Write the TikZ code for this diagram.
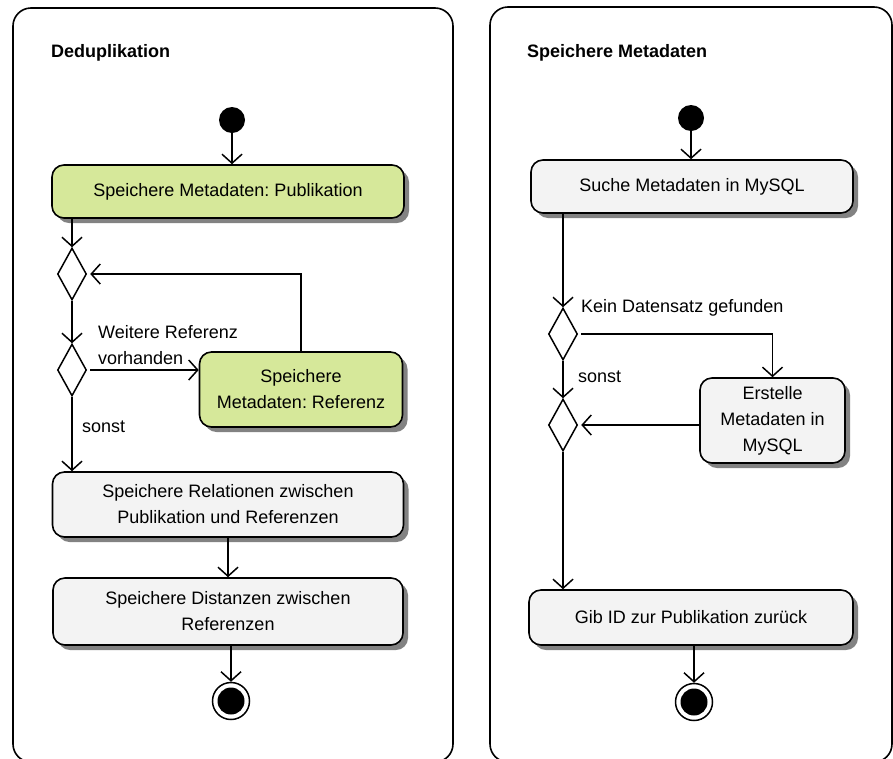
\documentclass[tikz,border=0pt]{standalone}
\usepackage{fontspec}
\setmainfont{Liberation Sans}
\usetikzlibrary{arrows.meta,shapes.geometric,shadows}
\frenchspacing

\definecolor{actgreen}{RGB}{214,232,154}
\definecolor{actgrey}{RGB}{243,243,243}
\definecolor{shadowgrey}{RGB}{130,130,130}

\tikzset{
  every node/.style={font=\fontsize{18}{26}\selectfont},
  panel/.style={draw, line width=1.6pt, rounded corners=18pt},
  action/.style={draw, line width=1.6pt, rounded corners=12pt, fill=actgrey,
    align=center, inner sep=0pt,
    drop shadow={shadow xshift=5pt, shadow yshift=-5pt, fill=shadowgrey, opacity=1}},
  greenaction/.style={action, fill=actgreen},
  decision/.style={draw, diamond, line width=1.5pt, inner sep=0pt,
    minimum width=29pt, minimum height=52pt, fill=white},
  startnode/.style={circle, fill=black, inner sep=0pt, minimum size=26pt},
  endnode/.style={circle, draw, line width=1.5pt, fill=white, inner sep=0pt,
    minimum size=37pt, path picture={\fill[black] (path picture bounding box.center) circle (13.5pt);}},
  flow/.style={line width=1.5pt, -{Straight Barb[length=9pt,width=20pt,line width=1.5pt]}},
  guard/.style={anchor=west, align=left, inner sep=0pt},
  title/.style={anchor=west, inner sep=0pt, font=\fontsize{18}{26}\selectfont\bfseries}
}

\begin{document}
\begin{tikzpicture}[x=1pt, y=-1pt]
  \useasboundingbox (0,0) rectangle (893,758);
  \clip (0,0) rectangle (893,758);

  % swimlane frames
  \draw[panel] (13,8) rectangle (453,762);
  \draw[panel] (490,7) rectangle (892,762);

  \node[title] (t1) at (51,53) {Deduplikation};
  \node[title] (t2) at (527,53) {Speichere Metadaten};

  % ---- Deduplikation ----
  \node[startnode] (s1) at (232,120) {};
  \node[greenaction, minimum width=352pt, minimum height=53pt] (b1) at (228,191.5)
    {Speichere Metadaten: Publikation};
  \node[decision] (d1) at (72,274) {};
  \node[decision] (d2) at (72,370) {};
  \node[greenaction, minimum width=203pt, minimum height=75pt] (b2) at (301,389.5)
    {Speichere\\Metadaten: Referenz};
  \node[action, minimum width=351pt, minimum height=65pt] (b3) at (228,504.5)
    {Speichere Relationen zwischen\\Publikation und Referenzen};
  \node[action, minimum width=350pt, minimum height=67pt] (b4) at (228,611.5)
    {Speichere Distanzen zwischen\\Referenzen};
  \node[endnode] (e1) at (231,701) {};

  \node[guard] (g1) at (98,345) {Weitere Referenz\\vorhanden};
  \node[guard] (g2) at (82,427) {sonst};

  \draw[flow] (s1.south) -- (s1.south |- b1.north);
  \draw[flow] (d1.north |- b1.south) -- (d1.north);
  \draw[flow] (d1.south) -- (d2.north);
  \draw[flow, shorten <=3pt] (d2.east) -- (d2.east -| b2.west);
  \draw[flow, shorten >=3pt] (b2.north) |- (d1.east);
  \draw[flow] (d2.south) -- (d2.south |- b3.north);
  \draw[flow] (b3.south) -- (b3.south |- b4.north);
  \draw[flow] (e1.north |- b4.south) -- (e1.north);

  % ---- Speichere Metadaten ----
  \node[startnode] (s2) at (691,118) {};
  \node[action, minimum width=322pt, minimum height=53pt] (r1) at (692,186.5)
    {Suche Metadaten in MySQL};
  \node[decision] (d3) at (563,334) {};
  \node[decision] (d4) at (563,425) {};
  \node[action, minimum width=145pt, minimum height=85pt] (r2) at (772.5,420.5)
    {Erstelle\\Metadaten in\\MySQL};
  \node[action, minimum width=324pt, minimum height=55pt] (r3) at (691,617.5)
    {Gib ID zur Publikation zurück};
  \node[endnode] (e2) at (694,702) {};

  \node[guard] (g3) at (581,308) {Kein Datensatz gefunden};
  \node[guard] (g4) at (578,377) {sonst};

  \draw[flow] (s2.south) -- (s2.south |- r1.north);
  \draw[flow] (d3.north |- r1.south) -- (d3.north);
  \draw[flow, shorten <=3pt] (d3.east) -| (r2.north);
  \draw[flow] (d3.south) -- (d4.north);
  \draw[flow, shorten >=3pt] (r2.west |- d4.east) -- (d4.east);
  \draw[flow] (d4.south) -- (d4.south |- r3.north);
  \draw[flow] (e2.north |- r3.south) -- (e2.north);
\end{tikzpicture}
\end{document}
